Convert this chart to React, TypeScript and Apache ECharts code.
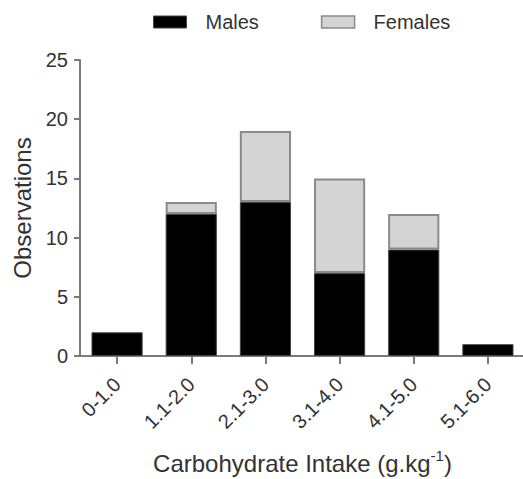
import React, { useEffect, useRef } from "react";
import * as echarts from "echarts";

const categories = ["0-1.0", "1.1-2.0", "2.1-3.0", "3.1-4.0", "4.1-5.0", "5.1-6.0"];
const males = [2, 12, 13, 7, 9, 1];
const females = [0, 1, 6, 8, 3, 0];
const yTicks = { min: 0, max: 25, interval: 5 };

const FONT = "'Liberation Sans', Arial, sans-serif";
const TEXT = "#333333";
const AXIS = "#7a7a7a";

export default function App() {
  const ref = useRef<HTMLDivElement>(null);
  useEffect(() => {
    if (!ref.current) return;
    const chart = echarts.init(ref.current, undefined, { renderer: "svg" });
    const hideZero = (v: number) => (v === 0 ? { value: v, itemStyle: { borderWidth: 0 } } : v);
    chart.setOption({
      animation: false,
      backgroundColor: "#ffffff",
      textStyle: { fontFamily: FONT },
      legend: {
        left: 153,
        top: 12,
        padding: 0,
        icon: "rect",
        itemWidth: 33,
        itemHeight: 12,
        itemGap: 62,
        textStyle: { fontFamily: FONT, fontSize: 20, color: TEXT, padding: [0, 0, 0, 14] },
        data: [
          { name: "Males", itemStyle: { color: "#000000", borderColor: "#444", borderWidth: 1 } },
          { name: "Females", itemStyle: { color: "#d4d4d4", borderColor: "#8a8a8a", borderWidth: 1.5 } },
        ],
      },
      grid: { left: 80, top: 60, height: 296, width: 445, outerBoundsMode: "none", containLabel: false },
      xAxis: {
        type: "category",
        data: categories,
        name: "Carbohydrate Intake (g.kg{sup|-1})",
        nameLocation: "middle",
        nameGap: 92,
        nameTextStyle: {
          fontFamily: FONT,
          fontSize: 24,
          color: TEXT,
          rich: {
            sup: { fontSize: 15, color: TEXT, fontFamily: FONT, padding: [0, 0, 16, 0] },
          },
        },
        axisLine: { show: true, lineStyle: { color: AXIS, width: 2 } },
        axisTick: { show: true, alignWithLabel: true, length: 8, lineStyle: { color: AXIS, width: 2 } },
        axisLabel: { rotate: 45, fontSize: 20, color: TEXT, fontFamily: FONT, margin: 25 },
      },
      yAxis: {
        type: "value",
        min: yTicks.min,
        max: yTicks.max,
        interval: yTicks.interval,
        name: "Observations",
        nameLocation: "middle",
        nameGap: 46,
        nameTextStyle: { fontFamily: FONT, fontSize: 24, color: TEXT },
        axisLine: { show: true, lineStyle: { color: AXIS, width: 2 } },
        axisTick: { show: true, length: 6, lineStyle: { color: AXIS, width: 2 } },
        axisLabel: { fontSize: 20, color: TEXT, fontFamily: FONT, margin: 12 },
        splitLine: { show: false },
      },
      series: [
        {
          name: "Males",
          type: "bar",
          stack: "total",
          data: males.map(hideZero),
          barCategoryGap: "31%",
          itemStyle: { color: "#000000", borderColor: "#444", borderWidth: 1 },
        },
        {
          name: "Females",
          type: "bar",
          stack: "total",
          data: females.map(hideZero),
          itemStyle: { color: "#d4d4d4", borderColor: "#8a8a8a", borderWidth: 2 },
        },
      ],
    });
    return () => chart.dispose();
  }, []);
  return (
    <div
      ref={ref}
      style={{ position: "fixed", left: 0, top: 0, width: 523, height: 479, background: "#fff" }}
    />
  );
}
